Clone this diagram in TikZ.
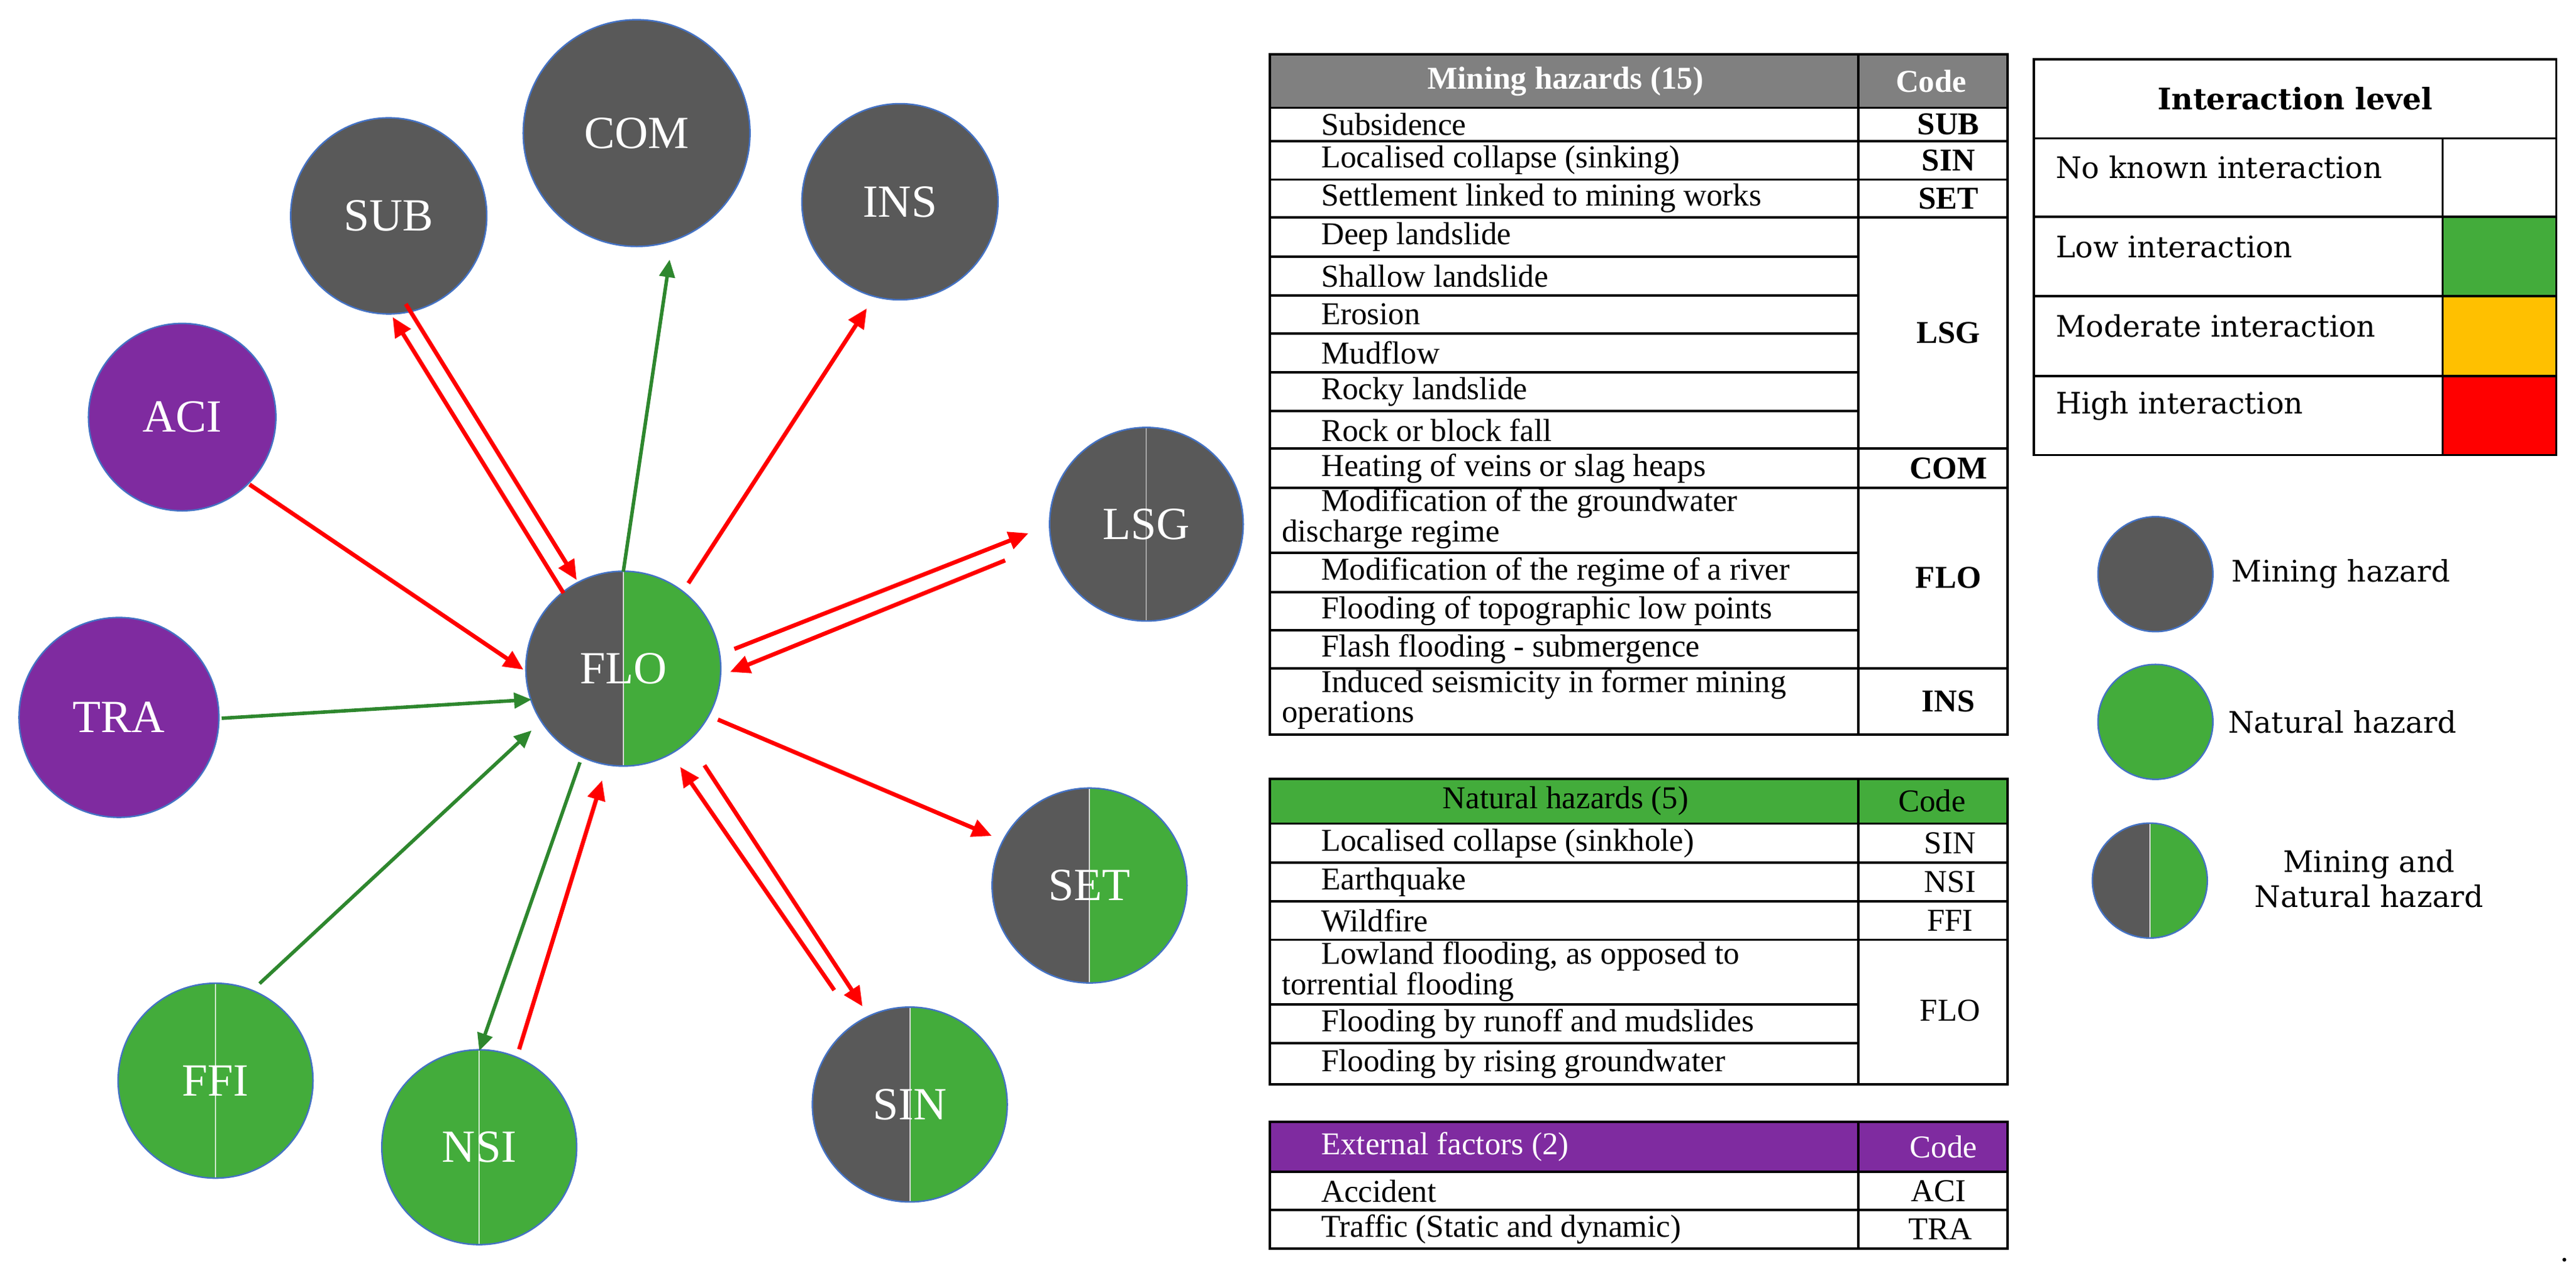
\documentclass[tikz,border=0pt]{standalone}
\usepackage{fontspec}
\setmainfont{Liberation Serif}
\newfontfamily\legfont{DejaVu Serif}
\usetikzlibrary{calc,arrows.meta}
\definecolor{mgray}{HTML}{595959}
\definecolor{ngreen}{HTML}{43AC3B}
\definecolor{epurple}{HTML}{7F2BA0}
\definecolor{hgray}{HTML}{808080}
\definecolor{cborder}{HTML}{4472C4}
\definecolor{agreen}{RGB}{46,135,46}
\definecolor{ayellow}{HTML}{FFC000}
\begin{document}
\begin{tikzpicture}[x=0.026301cm,y=-0.026301cm,
  hz/.style={circle,inner sep=0pt,minimum size=#1,draw=cborder,line width=0.7pt,text=white,font=\fontsize{21}{21}\selectfont},
  mine/.style={fill=mgray},
  nat/.style={fill=ngreen,path picture={\draw[white!75!ngreen,line width=0.6pt] (path picture bounding box.north) -- (path picture bounding box.south);}},
  ext/.style={fill=epurple},
  split/.style={fill=mgray,path picture={\fill[ngreen] (path picture bounding box.north) rectangle (path picture bounding box.south east);\draw[white!70!gray,line width=0.6pt] (path picture bounding box.north) -- (path picture bounding box.south);}},
  msplit/.style={fill=mgray,path picture={\draw[white!45!mgray,line width=0.6pt] (path picture bounding box.north) -- (path picture bounding box.south);}},
  ra/.style={draw=red,line width=1.9pt,-{Triangle[length=9pt,width=8pt]}},
  ga/.style={draw=agreen,line width=1.6pt,-{Triangle[length=8pt,width=7pt]}},
  tx/.style={font=\fontsize{14.5}{15}\selectfont,inner sep=0pt},
  cd/.style={font=\fontsize{14.5}{15}\selectfont\bfseries,inner sep=0pt},
  cn/.style={font=\fontsize{14.5}{15}\selectfont,inner sep=0pt},
  lg/.style={font=\legfont\fontsize{13.5}{16}\selectfont,inner sep=0pt},
  tl/.style={line width=1.1pt}]
\useasboundingbox (0,0) rectangle (1568,774.5);
% ---------------- circles
\node[hz=3.63cm,mine] (COM) at (387.5,81) {COM};
\node[hz=3.14cm,mine] (SUB) at (236.6,131.4) {SUB};
\node[hz=3.14cm,mine] (INS) at (547.8,122.8) {INS};
\node[hz=3.0cm,ext] (ACI) at (110.9,253.9) {ACI};
\node[hz=3.1cm,msplit] (LSG) at (697.8,319.1) {LSG};
\node[hz=3.2cm,ext] (TRA) at (72.4,436.7) {TRA};
\node[hz=3.12cm,split] (FLO) at (379.4,407) {FLO};
\node[hz=3.12cm,split] (SET) at (663.2,539) {SET};
\node[hz=3.12cm,nat] (FFI) at (131.2,657.8) {FFI};
\node[hz=3.12cm,nat] (NSI) at (291.7,698.3) {NSI};
\node[hz=3.12cm,split] (SIN) at (553.8,672.3) {SIN};
% ---------------- arrows
\draw[ra] ($(SUB)+(10.4,53.6)$) -- ($(FLO)+(-28.4,-54)$);
\draw[ra] ($(FLO)+(-36.4,-46)$) -- ($(SUB)+(2.4,61.6)$);
\draw[ga] ($(FLO)+(0,-59)$) -- ($(COM)+(20.1,77)$);
\draw[ra] ($(FLO)+(39.6,-52)$) -- ($(INS)+(-20.2,64.9)$);
\draw[ra] ($(ACI)+(41,41)$) -- ($(FLO)+(-60.8,0.6)$);
\draw[ra] ($(FLO)+(67.6,-12)$) -- ($(LSG)+(-71.8,5.5)$);
\draw[ra] ($(LSG)+(-86,22)$) -- ($(FLO)+(65,2)$);
\draw[ga] ($(TRA)+(62.5,0.5)$) -- ($(FLO)+(-55.8,18.8)$);
\draw[ra] ($(FLO)+(57.6,31)$) -- ($(SET)+(-59.5,-30.2)$);
\draw[ra] ($(FLO)+(49.4,58.8)$) -- ($(SIN)+(-28.8,-59.7)$);
\draw[ra] ($(SIN)+(-46,-69.6)$) -- ($(FLO)+(34.6,59.8)$);
\draw[ga] ($(FFI)+(26.8,-59.1)$) -- ($(FLO)+(-55.8,37.6)$);
\draw[ga] ($(FLO)+(-26.4,57)$) -- ($(NSI)+(0,-58.6)$);
\draw[ra] ($(NSI)+(24.3,-59.6)$) -- ($(FLO)+(-12.9,68)$);
% ---------------- mining table
\fill[hgray] (773,33) rectangle (1222,65.6);
\draw[tl] (773,33) rectangle (1222,447.2);
\draw[tl] (1131,33) -- (1131,447.2);
\foreach \y in {65.6,85.9,109.3,132.4,273.1,296.8,406.8} \draw[tl] (773,\y) -- (1222,\y);
\foreach \y in {156.1,179.8,202.9,226.6,250.3,336.6,360.3,383.7} \draw[tl] (773,\y) -- (1131,\y);
\node[tx,text=white,font=\fontsize{14.5}{15}\selectfont\bfseries] (mh) at (953,49.5) {Mining hazards (15)};
\node[tx,text=white,font=\fontsize{14.5}{15}\selectfont\bfseries] (mc) at (1175.5,49.5) {Code};
\node[tx,anchor=west] (m1) at (804,75.7) {Subsidence};
\node[tx,anchor=west] (m2) at (804,97.6) {Localised collapse (sinking)};
\node[tx,anchor=west] (m3) at (804,120.8) {Settlement linked to mining works};
\node[tx,anchor=west] (m4) at (804,144.2) {Deep landslide};
\node[tx,anchor=west] (m5) at (804,168) {Shallow landslide};
\node[tx,anchor=west] (m6) at (804,191.3) {Erosion};
\node[tx,anchor=west] (m7) at (804,214.7) {Mudflow};
\node[tx,anchor=west] (m8) at (804,238.4) {Rocky landslide};
\node[tx,anchor=west] (m9) at (804,261.7) {Rock or block fall};
\node[tx,anchor=west] (m10) at (804,285) {Heating of veins or slag heaps};
\node[tx,anchor=west] (m11) at (804,306.4) {Modification of the groundwater};
\node[tx,anchor=west] (m11b) at (780,325.3) {discharge regime};
\node[tx,anchor=west] (m12) at (804,348.4) {Modification of the regime of a river};
\node[tx,anchor=west] (m13) at (804,372) {Flooding of topographic low points};
\node[tx,anchor=west] (m14) at (804,395.2) {Flash flooding - submergence};
\node[tx,anchor=west] (m15) at (804,416.6) {Induced seismicity in former mining};
\node[tx,anchor=west] (m15b) at (780,435.5) {operations};
\node[cd] (c1) at (1186,75.7) {SUB};
\node[cd] (c2) at (1186,97.6) {SIN};
\node[cd] (c3) at (1186,120.8) {SET};
\node[cd] (c4) at (1186,202.7) {LSG};
\node[cd] (c5) at (1186,285) {COM};
\node[cd] (c6) at (1186,351.8) {FLO};
\node[cd] (c7) at (1186,427) {INS};
% ---------------- natural table
\fill[ngreen] (773,474) rectangle (1222,501.3);
\draw[tl] (773,474) rectangle (1222,660);
\draw[tl] (1131,474) -- (1131,660);
\foreach \y in {501.3,525.1,548.7,572} \draw[tl] (773,\y) -- (1222,\y);
\foreach \y in {611.4,635} \draw[tl] (773,\y) -- (1131,\y);
\node[tx] (nh) at (953,487.6) {Natural hazards (5)};
\node[tx] (nc) at (1176,487.6) {Code};
\node[tx,anchor=west] (n1) at (804,513.2) {Localised collapse (sinkhole)};
\node[tx,anchor=west] (n2) at (804,536.9) {Earthquake};
\node[tx,anchor=west] (n3) at (804,560.3) {Wildfire};
\node[tx,anchor=west] (n4) at (804,582) {Lowland flooding, as opposed to};
\node[tx,anchor=west] (n4b) at (780,600.6) {torrential flooding};
\node[tx,anchor=west] (n5) at (804,623.2) {Flooding by runoff and mudslides};
\node[tx,anchor=west] (n6) at (804,647.5) {Flooding by rising groundwater};
\node[cn] (d1) at (1187,513.2) {SIN};
\node[cn] (d2) at (1187,536.9) {NSI};
\node[cn] (d3) at (1187,560.3) {FFI};
\node[cn] (d4) at (1187,615) {FLO};
% ---------------- external table
\fill[epurple] (773,683) rectangle (1222,713.4);
\draw[tl] (773,683) rectangle (1222,759.9);
\draw[tl] (1131,683) -- (1131,759.9);
\foreach \y in {713.4,736.6} \draw[tl] (773,\y) -- (1222,\y);
\node[tx,anchor=west,text=white] (eh) at (804,698.2) {External factors (2)};
\node[tx,text=white] (ec) at (1183,698.2) {Code};
\node[tx,anchor=west] (e1) at (804,725) {Accident};
\node[tx,anchor=west] (e2) at (804,748.2) {Traffic (Static and dynamic)};
\node[cn] (f1) at (1180,725) {ACI};
\node[cn] (f2) at (1181,748.2) {TRA};
% ---------------- interaction level
\fill[ngreen] (1486.8,132) rectangle (1556,180.2);
\fill[ayellow] (1486.8,180.2) rectangle (1556,228.8);
\fill[red] (1486.8,228.8) rectangle (1556,277);
\draw[tl] (1238,36) rectangle (1556,277);
\draw[tl] (1486.8,84.2) -- (1486.8,277);
\foreach \y in {84.2,132,180.2,228.8} \draw[tl] (1238,\y) -- (1556,\y);
\node[lg,font=\legfont\fontsize{13.5}{16}\selectfont\bfseries] (ih) at (1397,60) {Interaction level};
\node[lg,anchor=west] (i1) at (1251,102) {No known interaction};
\node[lg,anchor=west] (i2) at (1251,150.5) {Low interaction};
\node[lg,anchor=west] (i3) at (1251,198.5) {Moderate interaction};
\node[lg,anchor=west] (i4) at (1251,247) {High interaction};
% ---------------- legend
\node[hz=1.84cm,mine] (L1) at (1312,349.5) {};
\node[hz=1.84cm,fill=ngreen] (L2) at (1312,439.4) {};
\node[hz=1.84cm,split] (L3) at (1308.6,536) {};
\node[lg,anchor=west] (l1) at (1358,349.5) {Mining hazard};
\node[lg,anchor=west] (l2) at (1356,439.4) {Natural hazard};
\node[lg,align=center] (l3) at (1442,535) {Mining and\\Natural hazard};
\node[tx] (dot) at (1561,767) {.};
\end{tikzpicture}
\end{document}
